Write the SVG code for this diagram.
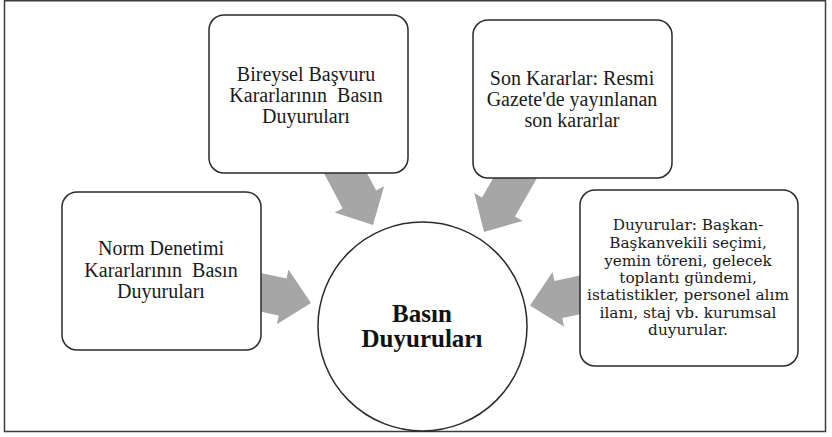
<svg xmlns="http://www.w3.org/2000/svg" width="832" height="437" viewBox="0 0 832 437">
<style>
.frame{fill:#ffffff;stroke:#3c3c3c;stroke-width:1.5}
.box{fill:#ffffff;stroke:#2a2a2a;stroke-width:1.5}
.arr{fill:#a6a6a6;stroke:none}
.t{font-family:"Liberation Serif","Times New Roman",serif;font-size:20px;fill:#1a1a1a;text-anchor:middle}
.s{font-family:"DejaVu Serif","Liberation Serif",serif;font-size:15.3px;fill:#1a1a1a;text-anchor:middle}
.c{font-family:"Liberation Serif","Times New Roman",serif;font-size:25px;font-weight:bold;fill:#111111;text-anchor:middle}
</style>
<defs>
<polygon id="blockArrow" points="0,0 -29,-28 -29,-19 -75,-19 -75,19 -29,19 -29,28"/>
</defs>
<rect class="frame" x="4.5" y="0.75" width="821" height="430.75"/>
<g id="connectors">
<use href="#blockArrow" class="arr" transform="translate(311,303) rotate(12)"/>
<use href="#blockArrow" class="arr" transform="translate(373,225) rotate(62)"/>
<use href="#blockArrow" class="arr" transform="translate(484,232) rotate(120)"/>
<use href="#blockArrow" class="arr" transform="translate(530,305.5) rotate(168)"/>
</g>
<g id="center">
<circle class="box" cx="422.5" cy="326.5" r="104.5"/>
<text class="c" x="422" y="322">Basın</text>
<text class="c" x="422" y="347">Duyuruları</text>
</g>
<g id="norm">
<rect class="box" x="62" y="192" width="199" height="158" rx="15"/>
<text class="t" x="161" y="255">Norm Denetimi</text>
<text class="t" x="161" y="277" xml:space="preserve">Kararlarının  Basın</text>
<text class="t" x="161" y="298">Duyuruları</text>
</g>
<g id="bireysel">
<rect class="box" x="209" y="15" width="199" height="158" rx="15"/>
<text class="t" x="306" y="81">Bireysel Başvuru</text>
<text class="t" x="306" y="102" xml:space="preserve">Kararlarının  Basın</text>
<text class="t" x="306" y="123">Duyuruları</text>
</g>
<g id="son">
<rect class="box" x="473" y="20" width="199" height="158" rx="15"/>
<text class="t" x="572" y="85">Son Kararlar: Resmi</text>
<text class="t" x="572" y="106">Gazete'de yayınlanan</text>
<text class="t" x="572" y="127">son kararlar</text>
</g>
<g id="duyurular">
<rect class="box" x="580" y="190" width="218" height="176" rx="15"/>
<text class="s" x="688" y="230">Duyurular: Başkan-</text>
<text class="s" x="688" y="248">Başkanvekili seçimi,</text>
<text class="s" x="688" y="266">yemin töreni, gelecek</text>
<text class="s" x="688" y="283">toplantı gündemi,</text>
<text class="s" x="688" y="300">istatistikler, personel alım</text>
<text class="s" x="688" y="318">ilanı, staj vb. kurumsal</text>
<text class="s" x="688" y="335">duyurular.</text>
</g>
</svg>
